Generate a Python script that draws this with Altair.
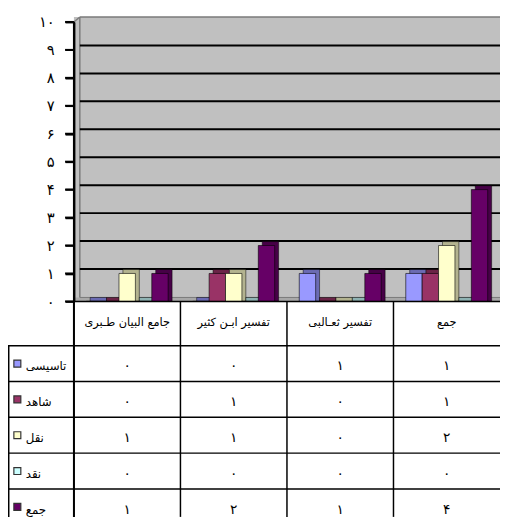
import altair as alt
import pandas as pd

FONT = "DejaVu Sans"

categories = ["جامع البیان طـبری", "تفسیر ابـن کثیر", "تفسیر ثعـالبی", "جمع"]
series_names = ["تاسیسی", "شاهد", "نقل", "نقد", "جمع"]
tasisi = [0, 0, 1, 1]
shahed = [0, 1, 0, 1]
naql = [1, 1, 0, 2]
naqd = [0, 0, 0, 0]
jam = [1, 2, 1, 4]
front_colors = ["#9999FF", "#993366", "#FFFFCC", "#CCFFFF", "#660066"]
side_colors = ["#6B6BB3", "#6B2447", "#B3B38F", "#8FB3B3", "#470047"]
y_ticks = list(range(11))
grid_levels = list(range(1, 10))

FA = str.maketrans("0123456789", "۰۱۲۳۴۵۶۷۸۹")

rows = []
for s, vals in zip(series_names, [tasisi, shahed, naql, naqd, jam]):
    for c, v in zip(categories, vals):
        rows.append({"cat": c, "ser": s, "val": v, "txt": str(v).translate(FA)})
df = pd.DataFrame(rows)
cat_df = pd.DataFrame({"cat": categories})
ser_df = pd.DataFrame({"ser": series_names})
grid_df = pd.DataFrame({"lv": grid_levels})
tick_df = pd.DataFrame({"t": y_ticks})
one = pd.DataFrame({"k": [0]})

W, H = 500, 513
X0 = 67           # left edge of the bar plot (plot coords)
Y0 = 294          # value-0 baseline
YTOP = 10         # value-10
TAB_TOP = 339     # top of first data row

x_scale = alt.Scale(domain=categories, range=[X0, W], paddingInner=0, paddingOuter=0)
band_w = (W - X0) / 4
xoff_front = alt.Scale(domain=series_names, range=[0, band_w], paddingInner=0, paddingOuter=0.75)
xoff_back = alt.Scale(domain=series_names, range=[4, band_w + 4], paddingInner=0, paddingOuter=0.75)
y_bar = alt.Scale(domain=[0, 10], range=[Y0, YTOP], nice=False, zero=True)
y_tab = alt.Scale(domain=series_names, range=[TAB_TOP, TAB_TOP + 5 * 36.4], paddingInner=0, paddingOuter=0)
c_front = alt.Scale(domain=series_names, range=front_colors)
c_side = alt.Scale(domain=series_names, range=side_colors)

labels_fa = [str(t).translate(FA) for t in y_ticks]
label_expr = "[" + ",".join("'" + l + "'" for l in labels_fa) + "][datum.value]"

wall = alt.Chart(one).mark_rect(color="#C0C0C0").encode(
    x=alt.value(X0), x2=alt.value(W), y=alt.value(5), y2=alt.value(Y0))
floor = alt.Chart(one).mark_rect(color="#A8A8A8").encode(
    x=alt.value(X0), x2=alt.value(W), y=alt.value(Y0 - 4), y2=alt.value(Y0))
edge_v = alt.Chart(one).mark_rule(color="#7A7A7A", strokeWidth=1.5).encode(
    x=alt.value(X0 + 6), y=alt.value(5), y2=alt.value(Y0 - 4))
edge_t = alt.Chart(one).mark_rule(color="#7A7A7A", strokeWidth=1.5).encode(
    x=alt.value(X0 + 6), x2=alt.value(W), y=alt.value(5))
edge_d = alt.Chart(one).mark_rule(color="#7A7A7A", strokeWidth=1.5).encode(
    x=alt.value(X0), x2=alt.value(X0 + 6), y=alt.value(YTOP), y2=alt.value(5))
floor_edge = alt.Chart(one).mark_rule(color="#7A7A7A", strokeWidth=1).encode(
    x=alt.value(X0 + 6), x2=alt.value(W), y=alt.value(Y0 - 4))

grid = alt.Chart(grid_df).mark_rule(color="black", strokeWidth=2, yOffset=-4.5).encode(
    y=alt.Y("lv:Q", scale=y_bar, axis=None),
    x=alt.value(X0 + 6), x2=alt.value(W))

yaxis = alt.Chart(tick_df).mark_rule(color="black", strokeWidth=2).encode(
    y=alt.Y("t:Q", scale=y_bar, axis=alt.Axis(
        orient="left", offset=-X0, values=y_ticks, labelExpr=label_expr,
        ticks=True, tickSize=9, tickWidth=2, tickColor="black", domainColor="black",
        domainWidth=2, labelFontSize=15, labelFont=FONT, labelColor="black",
        labelPadding=11, grid=False, title="", zindex=1)),
    x=alt.value(X0 - 9), x2=alt.value(X0))

back = alt.Chart(df).mark_bar(yOffset=-4, y2Offset=0, stroke="black", strokeWidth=0.5).encode(
    x=alt.X("cat:N", scale=x_scale, axis=None),
    xOffset=alt.XOffset("ser:N", scale=xoff_back),
    y=alt.Y("val:Q", scale=y_bar, axis=None),
    y2=alt.Y2(datum=0),
    color=alt.Color("ser:N", scale=c_side, legend=None))

front = alt.Chart(df).mark_bar(stroke="black", strokeWidth=0.6).encode(
    x=alt.X("cat:N", scale=x_scale, axis=None),
    xOffset=alt.XOffset("ser:N", scale=xoff_front),
    y=alt.Y("val:Q", scale=y_bar, axis=None),
    y2=alt.Y2(datum=0),
    color=alt.Color("ser:N", scale=c_front, legend=None))

base_axis = alt.Chart(one).mark_rule(color="black", strokeWidth=1.5).encode(
    x=alt.value(X0), x2=alt.value(W), y=alt.value(Y0))
v_axis = alt.Chart(one).mark_rule(color="black", strokeWidth=2).encode(
    x=alt.value(X0), y=alt.value(YTOP), y2=alt.value(H))

# table
row_lines = alt.Chart(ser_df).mark_rule(color="black", strokeWidth=1.5).encode(
    y=alt.Y("ser:N", scale=y_tab, axis=None, bandPosition=0),
    x=alt.value(0), x2=alt.value(W))
col_lines = alt.Chart(cat_df).mark_rule(color="black", strokeWidth=1.5).encode(
    x=alt.X("cat:N", scale=x_scale, axis=None, bandPosition=0),
    y=alt.value(Y0), y2=alt.value(H))
left_line = alt.Chart(one).mark_rule(color="black", strokeWidth=1.5).encode(
    x=alt.value(0.75), y=alt.value(TAB_TOP), y2=alt.value(H))
header = alt.Chart(cat_df).mark_text(font=FONT, fontSize=11.5, color="black").encode(
    x=alt.X("cat:N", scale=x_scale, axis=None),
    y=alt.value(316), text="cat:N")
cells = alt.Chart(df).mark_text(font=FONT, fontSize=14, color="black", dy=3).encode(
    x=alt.X("cat:N", scale=x_scale, axis=None),
    y=alt.Y("ser:N", scale=y_tab, axis=None),
    text="txt:N")
swatch = alt.Chart(ser_df).mark_square(size=50, filled=True, opacity=1, stroke="#333333", strokeWidth=1.2).encode(
    x=alt.value(9.5),
    y=alt.Y("ser:N", scale=y_tab, axis=None),
    color=alt.Color("ser:N", scale=c_front, legend=None))
names = alt.Chart(ser_df).mark_text(font=FONT, fontSize=12, color="black", align="left", dy=3).encode(
    x=alt.value(18),
    y=alt.Y("ser:N", scale=y_tab, axis=None),
    text="ser:N")

chart = alt.layer(
    wall, floor, edge_v, edge_t, edge_d, floor_edge, grid, back, front, base_axis,
    row_lines, col_lines, left_line, v_axis, yaxis, header, cells, swatch, names
).resolve_scale(
    y="independent", xOffset="independent", color="independent"
).properties(
    width=W, height=H, autosize=alt.AutoSizeParams(type="none"), padding=0
).configure_view(strokeWidth=0)

chart.save("out.html", embed_options={"renderer": "svg", "actions": False})
